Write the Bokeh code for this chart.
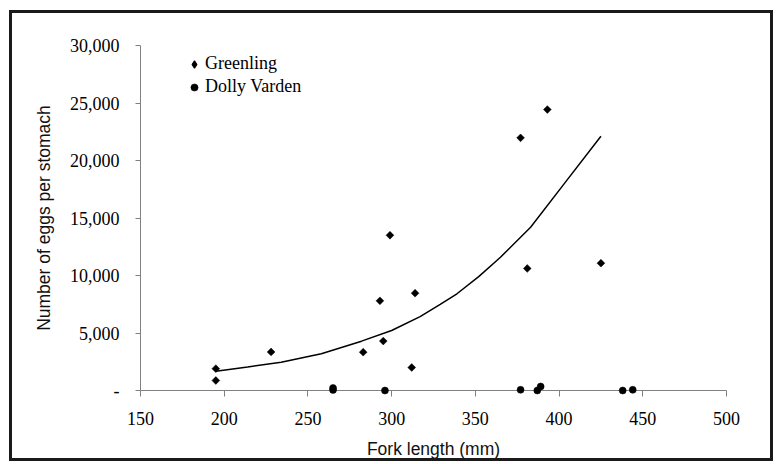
import math
from bokeh.plotting import figure
from bokeh.models import Range1d, FixedTicker, Legend, LegendItem
from bokeh.embed import file_html
from bokeh.resources import INLINE

# ---- data ----
x_ticks = [150, 200, 250, 300, 350, 400, 450, 500]
y_ticks = [0, 5000, 10000, 15000, 20000, 25000, 30000]
y_tick_labels = ["-", "5,000", "10,000", "15,000", "20,000", "25,000", "30,000"]

greenling_len = [195, 195, 228, 283, 293, 295, 299, 312, 314, 377, 381, 393, 425]
greenling_eggs = [1900, 870, 3350, 3330, 7800, 4300, 13500, 2000, 8460, 21970, 10610, 24430, 11070]

dolly_len = [265, 265, 296, 377, 387, 389, 438, 444]
dolly_eggs = [50, 220, 0, 60, 0, 350, 0, 60]

trend_len = [195, 214, 234, 258, 282, 300, 317, 329, 339, 352, 365, 383, 403, 425]
trend_eggs = [1680, 2050, 2460, 3190, 4290, 5220, 6430, 7480, 8410, 9900, 11590, 14200, 17970, 22110]

x_label = "Fork length (mm)"
y_label = "Number of eggs per stomach"
series_names = ["Greenling", "Dolly Varden"]

# ---- figure ----
p = figure(width=764, height=451, output_backend="svg", toolbar_location=None,
           x_range=Range1d(150, 500), y_range=Range1d(0, 30000),
           min_border_left=128, min_border_right=50, min_border_top=32, min_border_bottom=74)
p.styles = {"border": "3px solid #1a1a1a", "margin-left": "9px", "margin-top": "10px"}
p.outline_line_color = None
p.xgrid.visible = False
p.ygrid.visible = False
p.background_fill_color = "white"
p.border_fill_color = "white"

axis_col = "#808080"
for ax in (p.xaxis[0], p.yaxis[0]):
    ax.axis_line_color = axis_col
    ax.axis_line_width = 1
    ax.major_tick_line_color = axis_col
    ax.major_tick_in = 0
    ax.minor_tick_line_color = None
    ax.major_label_text_font = "Liberation Serif"
    ax.major_label_text_font_size = "18px"
    ax.major_label_text_color = "black"
    ax.axis_label_text_font = "Liberation Sans"
    ax.axis_label_text_font_size = "17.5px"
    ax.axis_label_text_font_style = "normal"
    ax.axis_label_text_color = "#111111"

p.xaxis.ticker = FixedTicker(ticks=x_ticks)
p.xaxis.major_tick_out = 6
p.xaxis.major_label_standoff = 15
p.xaxis.axis_label = x_label
p.xaxis.axis_label_standoff = 11

p.yaxis.ticker = FixedTicker(ticks=y_ticks)
p.yaxis.major_label_overrides = {t: l for t, l in zip(y_ticks, y_tick_labels)}
p.yaxis.major_tick_out = 5
p.yaxis.major_label_standoff = 16
p.yaxis.axis_label = y_label
p.yaxis.axis_label_standoff = 13

trend = p.line(trend_len, trend_eggs, line_color="black", line_width=1.5)

g = p.scatter(greenling_len, greenling_eggs, marker="square", angle=math.pi / 4, size=5.5,
              fill_color="black", line_color="black", line_width=0.5, level="overlay")
d = p.scatter(dolly_len, dolly_eggs, marker="circle", size=7,
              fill_color="black", line_color="black", line_width=0.5, level="overlay")
# legend swatch for the diamonds (a single undrawn NaN point, only used by the legend)
g_key = p.scatter(x=[float("nan")], y=[float("nan")], marker="diamond", size=7,
                  fill_color="black", line_color="black", line_width=1.2)

legend = Legend(items=[LegendItem(label=series_names[0], renderers=[g_key]),
                       LegendItem(label=series_names[1], renderers=[d])],
                location=(45, 293), padding=0, margin=0, spacing=2,
                glyph_width=18, glyph_height=20, label_height=20, label_standoff=2,
                border_line_color=None, background_fill_alpha=0,
                label_text_font="Liberation Serif", label_text_font_size="18px",
                label_text_color="black")
p.add_layout(legend)

open("out.html", "w").write(file_html(p, INLINE))
